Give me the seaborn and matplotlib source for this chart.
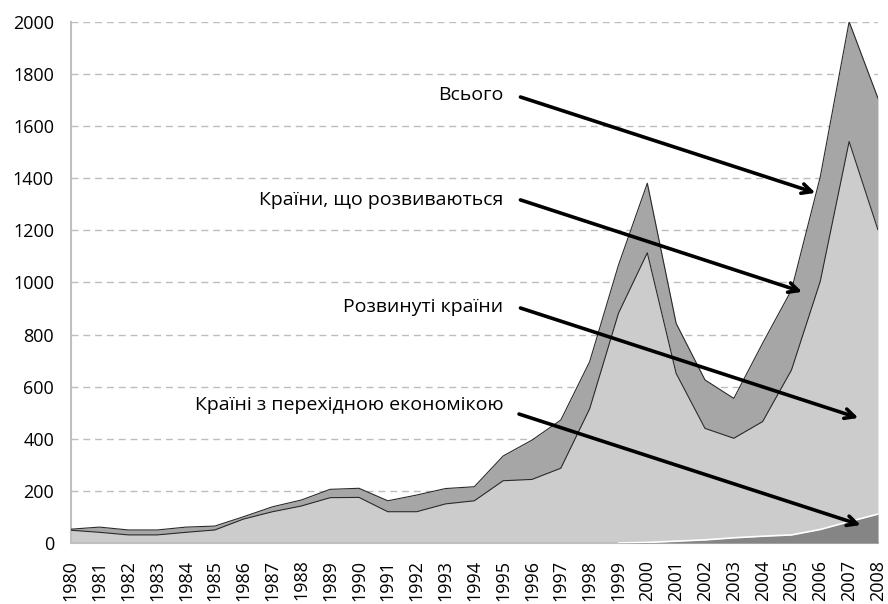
import numpy as np
import pandas as pd
import seaborn as sns
import matplotlib.pyplot as plt

# ---------------- DATA ------------------
years = list(range(1980, 2009))

# transition economies (bottom layer, only visible from 2000)
transition = [0, 0, 0, 0, 0, 0, 0, 0, 0, 0,
              0, 0, 0, 0, 0, 0, 0, 0, 0, 0,
              2, 7, 12, 20, 26, 31, 52, 82, 111]

# developed countries (stacked on transition)
developed = [49, 41, 31, 31, 41, 50, 92, 120, 142, 174,
             175, 120, 120, 150, 162, 239, 244, 287, 515, 882,
             1112, 644, 428, 382, 440, 633, 953, 1459, 1091]

# developing countries (stacked on top -> total)
developing = [4, 20, 19, 19, 20, 15, 9, 19, 23, 32,
              35, 42, 64, 59, 54, 95, 151, 185, 181, 185,
              267, 192, 186, 153, 301, 307, 401, 460, 505]

y_ticks = list(range(0, 2001, 200))

# annotation labels: (text, text position, arrow tip) in data units
labels = ["Всього", "Країни, що розвиваються", "Розвинуті країни",
          "Країні з перехідною економікою"]
label_pos = [(1995.0, 1720), (1995.0, 1317), (1995.0, 906), (1995.0, 530)]
arrow_start = [(1995.6, 1712), (1995.6, 1317), (1995.6, 902), (1995.55, 495)]
arrow_end = [(2005.83, 1344), (2005.37, 964), (2007.32, 480), (2007.4, 69)]

# --------------- PREP ----------------
df = pd.DataFrame({"year": years, "transition": transition,
                   "developed": developed, "developing": developing})
df["light_top"] = df["transition"] + df["developed"]
df["total"] = df["light_top"] + df["developing"]

# --------------- PLOT ----------------
sns.set_style("white")
plt.rcParams['font.family'] = ['Open Sans', 'DejaVu Sans']

fig = plt.figure(figsize=(8.88, 6.04), dpi=100)
ax = fig.add_axes([0.0796, 0.101, 0.9091, 0.8626])

for v in y_ticks[1:]:
    ax.axhline(v, color='#bdbdbd', lw=1.0, ls=(0, (5, 3.5)), zorder=0)

ax.fill_between(df["year"], df["light_top"], df["total"], color='#a6a6a6', lw=0, zorder=1)
ax.fill_between(df["year"], 0, df["light_top"], color='#cccccc', lw=0, zorder=2)
sns.lineplot(data=df, x="year", y="total", color='#2a2a2a', lw=0.8, ax=ax, zorder=3)
sns.lineplot(data=df, x="year", y="light_top", color='#2a2a2a', lw=0.8, ax=ax, zorder=3)

tr = df[df["year"] >= 1999]
ax.fill_between(tr["year"], 0, tr["transition"], color='#858585', lw=0, zorder=4)
sns.lineplot(data=tr, x="year", y="transition", color='white', lw=1.2, ax=ax, zorder=4)

for txt, pos, a0, a1 in zip(labels, label_pos, arrow_start, arrow_end):
    ax.text(pos[0], pos[1], txt, ha='right', va='center', fontsize=14, color='black', zorder=6)
    ax.annotate("", xy=a1, xytext=a0,
                arrowprops=dict(arrowstyle='->, head_length=0.7, head_width=0.35',
                                lw=2.6, color='black', shrinkA=0, shrinkB=0),
                zorder=6)

ax.set_xlim(1980, 2008)
ax.set_ylim(0, 2000)
ax.set_xticks(years)
ax.set_xticklabels([str(y) for y in years], rotation=90, fontsize=13)
ax.set_yticks(y_ticks)
ax.set_yticklabels([str(v) for v in y_ticks], fontsize=13)
ax.set_xlabel("")
ax.set_ylabel("")

for s in ['top', 'right']:
    ax.spines[s].set_visible(False)
for s in ['left', 'bottom']:
    ax.spines[s].set_color('#bfbfbf')
    ax.spines[s].set_linewidth(1.5)
ax.tick_params(axis='y', length=4, width=1.2, color='#bfbfbf', pad=8, labelcolor='black')
ax.tick_params(axis='x', length=5, width=1.2, color='#bfbfbf', pad=7, labelcolor='black')

plt.savefig("out.png", dpi=100)
plt.close()
